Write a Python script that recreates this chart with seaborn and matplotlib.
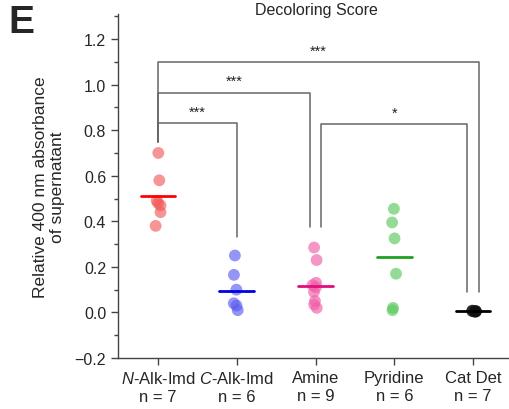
import numpy as np
import pandas as pd
import matplotlib
matplotlib.use("Agg")
import matplotlib.pyplot as plt
import seaborn as sns
from matplotlib.ticker import MultipleLocator

sns.set_theme(style="ticks")
plt.rcParams['font.family'] = ['Liberation Sans', 'DejaVu Sans']
plt.rcParams['mathtext.fontset'] = 'custom'
plt.rcParams['mathtext.it'] = 'Liberation Sans:italic'
plt.rcParams['mathtext.rm'] = 'Liberation Sans'

# ---- data ----
categories = ["N-Alk-Imd", "C-Alk-Imd", "Amine", "Pyridine", "Cat Det"]
tick_labels = ["$\\mathit{N}$-Alk-Imd\nn = 7", "$\\mathit{C}$-Alk-Imd\nn = 6",
               "Amine\nn = 9", "Pyridine\nn = 6", "Cat Det\nn = 7"]
n_alk = [0.70, 0.58, 0.49, 0.48, 0.47, 0.44, 0.38]
c_alk = [0.25, 0.165, 0.10, 0.04, 0.03, 0.01]
amine = [0.285, 0.23, 0.13, 0.12, 0.11, 0.09, 0.05, 0.035, 0.02]
pyridine = [0.455, 0.395, 0.325, 0.17, 0.02, 0.01]
cat_det = [0.008, 0.006, 0.005, 0.004, 0.003, 0.005, 0.006]
means = [0.51, 0.096, 0.118, 0.245, 0.005]
point_colors = ["#f25c5c", "#5c5cf0", "#f060a8", "#5cc85c", "#111111"]
line_colors = ["#ff0000", "#0000e0", "#e0107a", "#20a020", "#000000"]
# brackets: (x1, x2, y_top, y_left_end, y_right_end, label)
brackets = [
    (0, 4.07, 1.10, 0.75, 0.088, "***"),
    (0, 1.93, 0.965, 0.75, 0.373, "***"),
    (0, 1.0, 0.83, 0.75, 0.33, "***"),
    (2.07, 3.93, 0.825, 0.373, 0.088, "*"),
]

groups = [n_alk, c_alk, amine, pyridine, cat_det]
df = pd.DataFrame({
    "group": [c for c, g in zip(categories, groups) for _ in g],
    "value": [v for g in groups for v in g],
})

fig = plt.figure(figsize=(5.09, 4.10), dpi=100)
ax = fig.add_axes([118/509, 1-359/410, (509-118)/509, (359-15)/410])

np.random.seed(3)
sns.stripplot(data=df, x="group", y="value", hue="group", order=categories,
              palette=dict(zip(categories, point_colors)), jitter=0.04,
              size=8.5, alpha=0.65, linewidth=0, legend=False, ax=ax, zorder=3)

for i, m in enumerate(means):
    ax.plot([i - 0.22, i + 0.22], [m, m], color=line_colors[i], lw=2, zorder=4)

for x1, x2, yt, yl, yr, lab in brackets:
    ax.plot([x1, x1, x2, x2], [yl, yt, yt, yr], color="#666666", lw=1.1, zorder=2)
    ax.text((x1 + x2) / 2, yt + 0.02, lab, ha="center", va="bottom",
            fontsize=10.5, color="#222222")

ax.set_xlim(-0.508, 4.457)
ax.set_ylim(-0.2, 1.31)
ax.set_xticks(range(5))
ax.set_xticklabels(tick_labels, fontsize=12, linespacing=1.3)
ax.yaxis.set_major_locator(MultipleLocator(0.2))
ax.yaxis.set_minor_locator(MultipleLocator(0.1))
ax.set_yticks(np.arange(-0.2, 1.21, 0.2))
ax.set_yticklabels(["\u22120.2", "0.0", "0.2", "0.4", "0.6", "0.8", "1.0", "1.2"], fontsize=11.5)
ax.tick_params(axis="both", which="major", length=5, width=1, color="#444444", direction="out")
ax.tick_params(axis="y", which="minor", length=3, width=1, color="#444444")
ax.set_xlabel("")
ax.set_ylabel("Relative 400 nm absorbance\nof supernatant", fontsize=12.5, labelpad=7)
for s in ["top", "right"]:
    ax.spines[s].set_visible(False)
for s in ["left", "bottom"]:
    ax.spines[s].set_color("#444444")
    ax.spines[s].set_linewidth(1)

fig.text(316/509, 1-11/410, "Decoloring Score", ha="center", va="center", fontsize=11.5)
fig.text(8/509, 1-23/410, "E", ha="left", va="center", fontsize=28, fontweight="bold")

fig.savefig("out.png", dpi=100)
